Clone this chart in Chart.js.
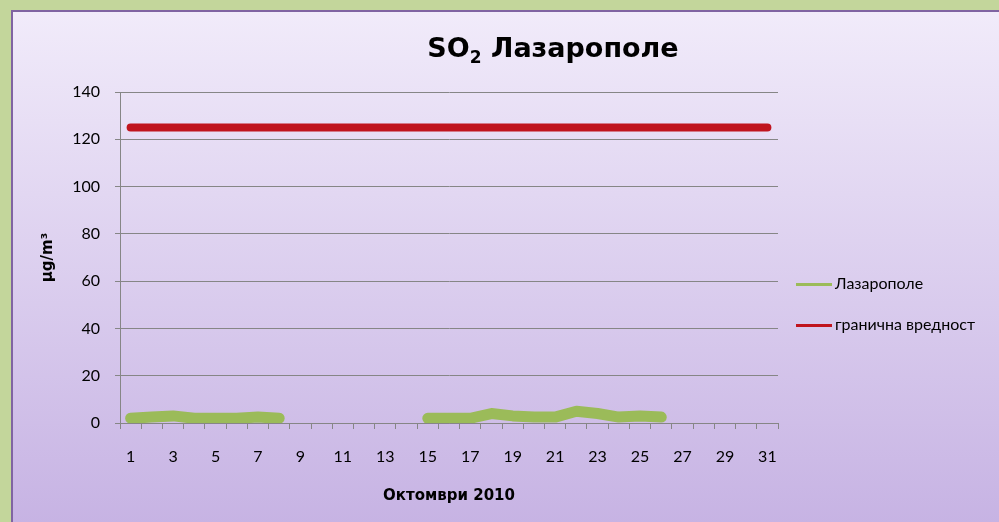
<!DOCTYPE html>
<html>
<head>
<meta charset="utf-8">
<script src="https://cdn.jsdelivr.net/npm/chart.js@4"></script>
<style>
  html,body{margin:0;padding:0;}
  body{width:999px;height:522px;background:#c3d69b;overflow:hidden;position:relative;font-family:Lato,"DejaVu Sans",sans-serif;}
  .panel{position:absolute;left:11px;top:10px;width:994px;height:520px;
    border-top:2px solid #8064a2;border-left:2px solid #8064a2;
    background:linear-gradient(#f1ebfa,#c6b2e3);}
  canvas{position:absolute;left:0;top:0;}
  .ttl{position:absolute;left:0;width:100%;top:20px;text-align:center;padding-left:86px;box-sizing:border-box;
    font:bold 27px "DejaVu Sans",sans-serif;color:#000;}
  .ttl sub{font-size:17px;}
  .lg{position:absolute;left:783px;font-size:16px;color:#000;}
  .lg span{display:inline-block;width:36px;height:3px;vertical-align:middle;margin-right:3px;}
</style>
</head>
<body>
<div class="panel">
  <canvas id="c" width="986" height="510"></canvas>
  <div class="ttl">SO<sub>2</sub> Лазарополе</div>
  <div class="lg" style="top:261px"><span style="background:#9bbb59"></span>Лазарополе</div>
  <div class="lg" style="top:302px"><span style="background:#c0141e"></span>гранична вредност</div>
</div>
<script>
const days = Array.from({length:31},(_,i)=>String(i+1));
const lazaropole = [2,2.5,3,2,2,2,2.5,2, null,null,null,null,null,null,
                    2,2,2,4,3,2.5,2.5,5,4,2.5,3,2.5, null,null,null,null,null];
const limitVal = new Array(31).fill(125);
const yTicks = [0,20,40,60,80,100,120,140];

new Chart(document.getElementById('c'),{
  type:'line',
  data:{
    labels:days,
    datasets:[
      { label:'Лазарополе', data:lazaropole, borderColor:'#9bbb59', borderWidth:11,
        borderCapStyle:'round', borderJoinStyle:'round', pointRadius:0, spanGaps:false, tension:0 },
      { label:'гранична вредност', data:limitVal, borderColor:'#c0141e', borderWidth:8,
        borderCapStyle:'round', pointRadius:0, tension:0 }
    ]
  },
  options:{
    responsive:false,
    animation:false,
    layout:{ padding:{ top:80, right:221, bottom:0, left:0 } },
    plugins:{ legend:{display:false}, title:{display:false}, tooltip:{enabled:false} },
    scales:{
      x:{
        offset:true,
        grid:{ offset:true, drawOnChartArea:false, tickLength:6, color:'#868686' },
        border:{ color:'#868686' },
        ticks:{ autoSkip:false, maxRotation:0, padding:18, color:'#000',
          font:{ family:'Lato', size:16 },
          callback:(v,i)=> i%2===0 ? days[i] : '' },
        title:{ display:true, text:'Октомври 2010', color:'#000',
          font:{ family:'"DejaVu Sans"', size:15, weight:'bold' }, padding:{top:0,bottom:17} },
        afterFit:s=>{ s.height = 99; }
      },
      y:{
        min:0, max:140,
        afterBuildTicks:s=>{ s.ticks = yTicks.map(v=>({value:v})); },
        grid:{ color:'#868686', tickLength:5 },
        border:{ color:'#868686' },
        ticks:{ padding:15, color:'#000', font:{ family:'Lato', size:16 } },
        title:{ display:true, text:'μg/m³', color:'#000',
          font:{ family:'"DejaVu Sans"', size:15, weight:'bold' }, padding:{top:26,bottom:0} },
        afterFit:s=>{ s.width = 107; }
      }
    }
  }
});
</script>
</body>
</html>
